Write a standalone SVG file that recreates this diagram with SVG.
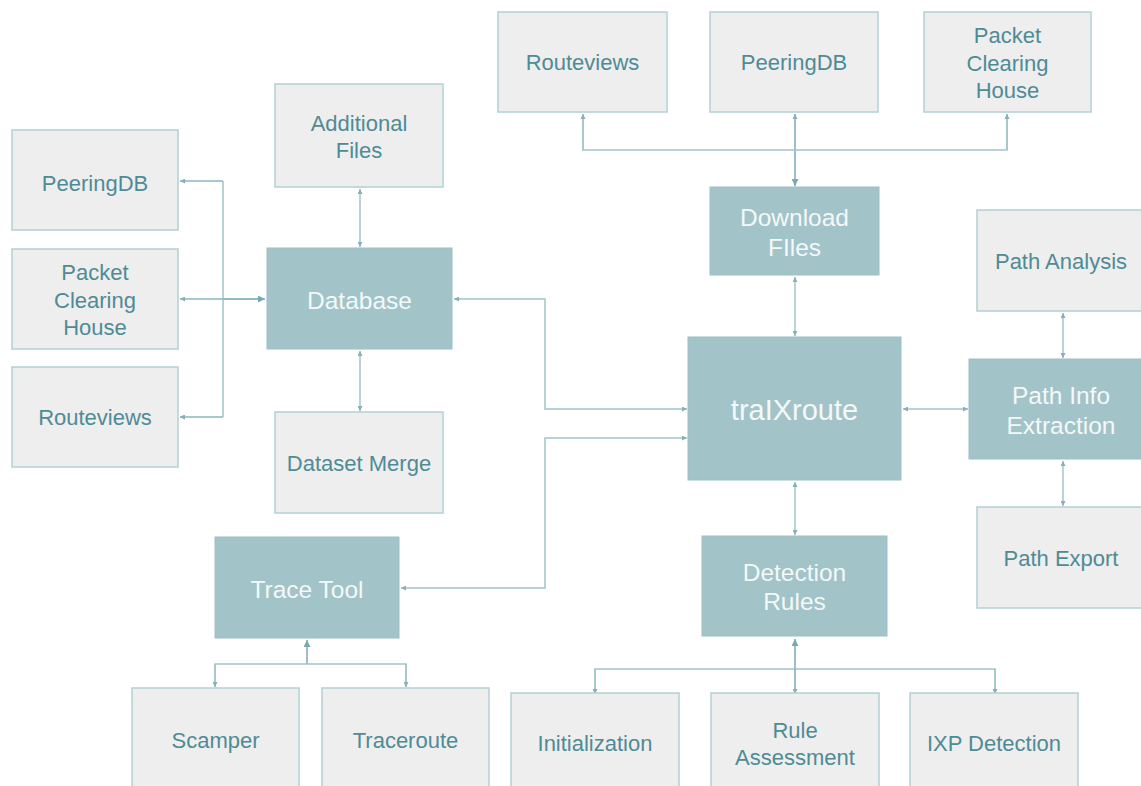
<svg xmlns="http://www.w3.org/2000/svg" width="1141" height="786" viewBox="0 0 1141 786">
<style>
.lt{fill:#eeeeee;stroke:#b3d0d4;stroke-width:1.5}
.dk{fill:#a2c4c9;stroke:#9dbfc4;stroke-width:1}
.tl{font-family:"Liberation Sans",Arial,sans-serif;font-size:22px;fill:#4f8b95;text-anchor:middle}
.td{font-family:"Liberation Sans",Arial,sans-serif;font-size:24.5px;fill:#f4f8f8;text-anchor:middle}
.tm{font-family:"Liberation Sans",Arial,sans-serif;font-size:29px;fill:#f4f8f8;text-anchor:middle}
.c{fill:none;stroke:#a2c4c9;stroke-width:1.5}
.c2{fill:none;stroke:#86b0b7;stroke-width:1.6}
</style>
<defs>
<marker id="a" viewBox="0 0 10 10" refX="10" refY="5" markerWidth="5" markerHeight="5" markerUnits="userSpaceOnUse" orient="auto-start-reverse">
<path d="M0,0 L10,5 L0,10 z" fill="#86b0b7"/>
</marker>
<marker id="b" viewBox="0 0 10 10" refX="10" refY="5" markerWidth="7" markerHeight="7" markerUnits="userSpaceOnUse" orient="auto-start-reverse">
<path d="M0,0 L10,5 L0,10 z" fill="#7aa8b0"/>
</marker>
</defs>
<rect width="1141" height="786" fill="#ffffff"/>
<g id="connectors">
<path class="c" d="M263,299 H223 M223,181 V417 M223,181 H180 M223,299 H180 M223,417 H180" marker-end="url(#a)"/>
<path class="c" d="M223,181 H180" marker-end="url(#a)"/>
<path class="c" d="M223,299 H180" marker-end="url(#a)"/>
<path class="c" d="M223,417 H180" marker-end="url(#a)"/>
<path class="c2" d="M223,299 H265" marker-end="url(#b)"/>
<path class="c" d="M360,189 V247" marker-start="url(#a)" marker-end="url(#a)"/>
<path class="c" d="M360,351 V411" marker-start="url(#a)" marker-end="url(#a)"/>
<path class="c" d="M454,299 H545 V409 H687" marker-start="url(#a)" marker-end="url(#a)"/>
<path class="c" d="M401,588 H545 V438 H687" marker-start="url(#a)" marker-end="url(#a)"/>
<path class="c" d="M903,409 H968" marker-start="url(#a)" marker-end="url(#a)"/>
<path class="c" d="M795,277 V336" marker-start="url(#a)" marker-end="url(#a)"/>
<path class="c" d="M795,482 V535" marker-start="url(#a)" marker-end="url(#a)"/>
<path class="c" d="M1063,313 V358" marker-start="url(#a)" marker-end="url(#a)"/>
<path class="c" d="M1063,461 V506" marker-start="url(#a)" marker-end="url(#a)"/>
<path class="c2" d="M795,186 V114" marker-start="url(#b)" marker-end="url(#a)"/>
<path class="c" d="M583,114 V150 H1007 V114"/>
<path class="c" d="M583,150 V114" marker-end="url(#a)"/>
<path class="c" d="M1007,150 V114" marker-end="url(#a)"/>
<path class="c2" d="M307,664 V640" marker-end="url(#b)"/>
<path class="c" d="M215,687 V664 H406 V687"/>
<path class="c" d="M215,664 V687" marker-end="url(#a)"/>
<path class="c" d="M406,664 V687" marker-end="url(#a)"/>
<path class="c2" d="M795,669 V639" marker-end="url(#b)"/>
<path class="c" d="M595,694 V669 H995 V694"/>
<path class="c" d="M595,669 V694" marker-end="url(#a)"/>
<path class="c2" d="M795,669 V694" marker-end="url(#a)"/>
<path class="c" d="M995,669 V694" marker-end="url(#a)"/>
</g>
<g id="n-peeringdb-l"><rect class="lt" x="12" y="130" width="166" height="100"/><text class="tl" x="95" y="191">PeeringDB</text></g>
<g id="n-pch-l"><rect class="lt" x="12" y="249" width="166" height="100"/><text class="tl" x="95" y="280">Packet</text><text class="tl" x="95" y="308">Clearing</text><text class="tl" x="95" y="335">House</text></g>
<g id="n-routeviews-l"><rect class="lt" x="12" y="367" width="166" height="100"/><text class="tl" x="95" y="425">Routeviews</text></g>
<g id="n-additional"><rect class="lt" x="275" y="84" width="168" height="103"/><text class="tl" x="359" y="131">Additional</text><text class="tl" x="359" y="158">Files</text></g>
<g id="n-database"><rect class="dk" x="267" y="248" width="185" height="101"/><text class="td" x="359.5" y="308.5">Database</text></g>
<g id="n-merge"><rect class="lt" x="275" y="412" width="168" height="101"/><text class="tl" x="359" y="471">Dataset Merge</text></g>
<g id="n-trace"><rect class="dk" x="215" y="537" width="184" height="101"/><text class="td" x="307" y="597.5">Trace Tool</text></g>
<g id="n-scamper"><rect class="lt" x="132" y="688" width="167" height="110"/><text class="tl" x="215.5" y="748">Scamper</text></g>
<g id="n-traceroute"><rect class="lt" x="322" y="688" width="167" height="110"/><text class="tl" x="405.5" y="748">Traceroute</text></g>
<g id="n-routeviews-t"><rect class="lt" x="498" y="12" width="169" height="100"/><text class="tl" x="582.5" y="70">Routeviews</text></g>
<g id="n-peeringdb-t"><rect class="lt" x="710" y="12" width="168" height="100"/><text class="tl" x="794" y="70">PeeringDB</text></g>
<g id="n-pch-t"><rect class="lt" x="924" y="12" width="167" height="100"/><text class="tl" x="1007.5" y="43">Packet</text><text class="tl" x="1007.5" y="71">Clearing</text><text class="tl" x="1007.5" y="98">House</text></g>
<g id="n-download"><rect class="dk" x="710" y="187" width="169" height="88"/><text class="td" x="794.5" y="225.5">Download</text><text class="td" x="794.5" y="255.5">FIles</text></g>
<g id="n-traixroute"><rect class="dk" x="688" y="337" width="213" height="143"/><text class="tm" x="794.5" y="420">traIXroute</text></g>
<g id="n-path-analysis"><rect class="lt" x="977" y="210" width="168" height="101"/><text class="tl" x="1061" y="269">Path Analysis</text></g>
<g id="n-path-info"><rect class="dk" x="969" y="359" width="184" height="100"/><text class="td" x="1061" y="403.5">Path Info</text><text class="td" x="1061" y="433.5">Extraction</text></g>
<g id="n-path-export"><rect class="lt" x="977" y="507" width="168" height="101"/><text class="tl" x="1061" y="566">Path Export</text></g>
<g id="n-detection"><rect class="dk" x="702" y="536" width="185" height="100"/><text class="td" x="794.5" y="580.5">Detection</text><text class="td" x="794.5" y="609.5">Rules</text></g>
<g id="n-init"><rect class="lt" x="511" y="693" width="168" height="110"/><text class="tl" x="595" y="751">Initialization</text></g>
<g id="n-rule"><rect class="lt" x="711" y="693" width="168" height="110"/><text class="tl" x="795" y="738">Rule</text><text class="tl" x="795" y="765">Assessment</text></g>
<g id="n-ixp"><rect class="lt" x="910" y="693" width="168" height="110"/><text class="tl" x="994" y="751">IXP Detection</text></g>
</svg>
